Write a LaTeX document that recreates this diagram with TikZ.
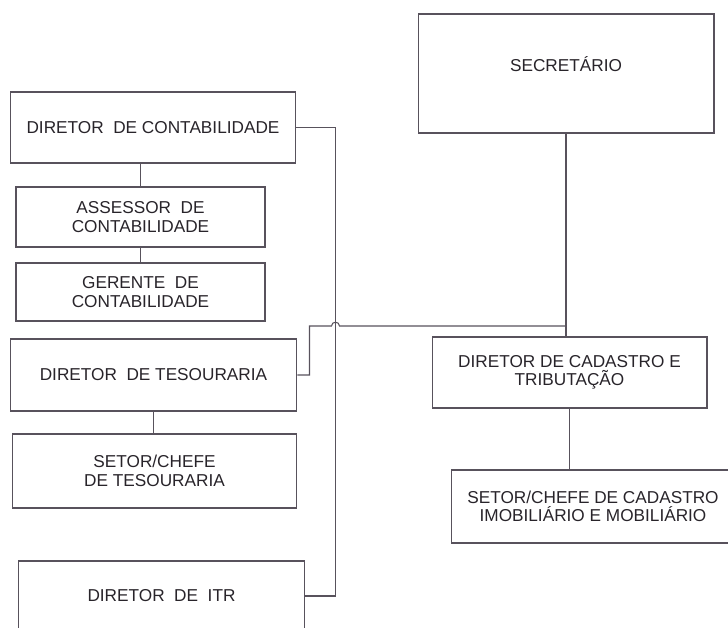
\documentclass[tikz,border=0pt]{standalone}
\usepackage{fontspec}
\setmainfont{Liberation Sans}
\usetikzlibrary{positioning, calc}
\definecolor{linha}{RGB}{88,82,92}
\definecolor{texto}{RGB}{40,36,42}
\tikzset{
	cargo/.style={draw=linha, line width=0.6pt, align=center, text=texto, inner sep=0pt,
		font=\fontsize{9.8}{10.6}\selectfont},
	liga/.style={draw=linha, line width=0.6pt}
}

\begin{document}
\begin{tikzpicture}[x=0.02cm, y=-0.02cm]
		\useasboundingbox (0,0) rectangle (728,628);
		\clip (0,0) rectangle (728,628);
		
		\node[cargo, minimum width=5.92cm, minimum height=2.38cm, text depth=0.36cm] (sec) at (566,73.5) {SECRET\'ARIO};
		\node[cargo, minimum width=5.72cm, minimum height=1.42cm] (dcont) at (153,127.5) {DIRETOR\ \ DE CONTABILIDADE};
		\node[cargo, minimum width=4.98cm, minimum height=1.2cm] (asses) at (140.5,217) {ASSESSOR\ \ DE\\CONTABILIDADE};
		\node[cargo, minimum width=4.98cm, minimum height=1.16cm] (ger) at (140.5,292) {GERENTE\ \ DE\\CONTABILIDADE};
		\node[cargo, minimum width=5.74cm, minimum height=1.44cm] (dtes) at (153.5,375) {DIRETOR\ \ DE TESOURARIA};
		\node[cargo, minimum width=5.70cm, minimum height=1.48cm] (stes) at (154.5,471) {SETOR/CHEFE\\DE TESOURARIA};
		\node[cargo, minimum width=5.74cm, minimum height=1.4cm] (ditr) at (161.5,596) {DIRETOR\ \ DE\ \ ITR};
		\node[cargo, minimum width=5.5cm, minimum height=1.42cm] (dcad) at (569.5,372.5) {DIRETOR DE CADASTRO E\\TRIBUTA\c{C}\~AO};
		\node[cargo, minimum width=5.68cm, minimum height=1.46cm] (scad) at (593,506.5) {SETOR/CHEFE DE CADASTRO\\IMOBILI\'ARIO E MOBILI\'ARIO};
		
		\path[liga] (dcont.south -| asses.north) -- (asses.north);
		\path[liga] (asses.south) -- (ger.north);
		\path[liga] (dtes.south) -- (dtes.south |- stes.north);
		\path[liga] (dcad.south) -- (dcad.south |- scad.north);
		\path[liga] (sec.south) -- (sec.south |- dcad.north);
		\path[liga] (dcont.east) -- ++(39,0) coordinate (eixo) -- (eixo |- ditr.east) -- (ditr.east);
		\coordinate (no) at (sec.south |- 0,326);
		\path[liga] (no) -- ($(eixo |- no)+(4,0)$) .. controls +(0,-5) and +(0,-5) .. ($(eixo |- no)+(-4,0)$)
			-- ++(-22,0) |- (dtes.east);
	\end{tikzpicture}
\end{document}
